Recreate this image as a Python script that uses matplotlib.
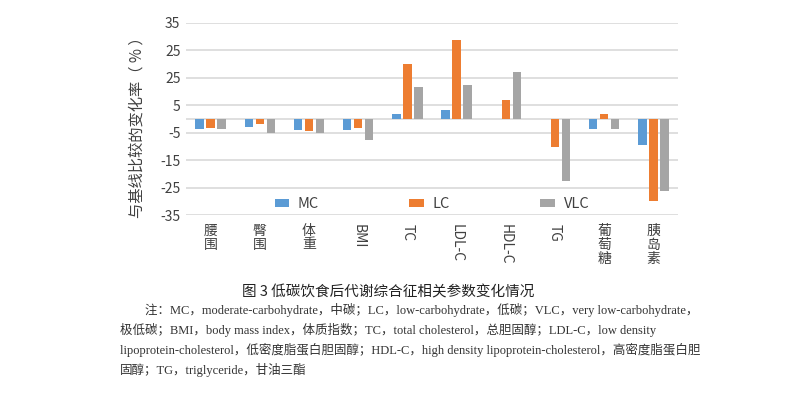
import numpy as np
import matplotlib
matplotlib.use("Agg")
from matplotlib import pyplot as plt

plt.rcParams["font.family"] = ["Noto Sans CJK SC", "DejaVu Sans"]

categories = ["腰围", "臀围", "体重", "BMI", "TC", "LDL-C", "HDL-C", "TG", "葡萄糖", "胰岛素"]
mc = [-3.6, -2.8, -4.0, -4.0, 1.9, 3.4, 0.0, 0.0, -3.8, -9.6]
lc = [-3.3, -1.9, -4.4, -3.4, 19.9, 28.8, 6.8, -10.1, 1.9, -29.7]
vlc = [-3.6, -5.0, -5.2, -7.8, 11.5, 12.2, 17.0, -22.4, -3.8, -26.2]
series_names = ["MC", "LC", "VLC"]
# tick labels as printed in the original figure (second "25" is really 15)
ytick_values = [-35, -25, -15, -5, 5, 15, 25, 35]
ytick_labels = ["-35", "-25", "-15", "-5", "5", "25", "25", "35"]

ylabel = "与基线比较的变化率（ % ）"
caption = "图 3 低碳饮食后代谢综合征相关参数变化情况"
note_lines = [
    "注：MC，moderate-carbohydrate，中碳；LC，low-carbohydrate，低碳；VLC，very low-carbohydrate，",
    "极低碳；BMI，body mass index，体质指数；TC，total cholesterol，总胆固醇；LDL-C，low density",
    "lipoprotein-cholesterol，低密度脂蛋白胆固醇；HDL-C，high density lipoprotein-cholesterol，高密度脂蛋白胆",
    "固醇；TG，triglyceride，甘油三酯",
]

colors = ["#5B9BD5", "#ED7D31", "#A5A5A5"]
grid_c = "#D9D9D9"
text_c = "#404040"

fig = plt.figure(figsize=(8.12, 3.95), dpi=100)
ax = fig.add_axes([186 / 812, 1 - 215.3 / 395, 492 / 812, 192.6 / 395])

x = np.arange(len(categories))
bar_w = 0.17
step = 0.225
for i, (vals, name) in enumerate(zip([mc, lc, vlc], series_names)):
    ax.bar(x + (i - 1) * step, vals, width=bar_w, color=colors[i], label=name, zorder=3)

ax.set_xlim(-0.5, len(categories) - 0.5)
ax.set_ylim(-35, 35)
ax.set_yticks(ytick_values, ytick_labels)
ax.grid(axis="y", color=grid_c, linewidth=1.2, zorder=0)
ax.axhline(0, color=grid_c, linewidth=1.2, zorder=2)
for s in ax.spines.values():
    s.set_visible(False)
ax.tick_params(axis="y", length=0, pad=4, labelsize=10, labelcolor=text_c)
ax.tick_params(axis="x", length=0, pad=6, labelsize=10, labelcolor=text_c)

# category labels: Chinese stacked vertically, Latin rotated
labels = []
for c in categories:
    if c.isascii():
        labels.append(c)
    else:
        labels.append("\n".join(c))
ax.set_xticks(x, labels)
for lab, c in zip(ax.get_xticklabels(), categories):
    if c.isascii():
        lab.set_rotation(-90)
    else:
        lab.set_linespacing(1.0)

ax.legend(loc="center", bbox_to_anchor=(0.5, (-30.9 + 35) / 70), ncol=3, frameon=False,
          fontsize=10.5, columnspacing=6.2, handlelength=1.0, handleheight=0.5,
          handletextpad=0.6, labelcolor=text_c)

fig.text(137 / 812, 1 - 124 / 395, ylabel, rotation=90, ha="center", va="center",
         fontsize=11, color=text_c)

fig.text(388 / 812, 1 - 292 / 395, caption, ha="center", va="center",
         fontsize=10.5, color="#222222")

note_x = [145, 120, 120, 120]
note_y = [310, 330, 350, 370]
for line, nx, ny in zip(note_lines, note_x, note_y):
    fig.text(nx / 812, 1 - ny / 395, line, ha="left", va="center", fontsize=9,
             color="#333333", family=["Liberation Serif", "Noto Sans CJK SC"])

fig.savefig("out.png", dpi=100, facecolor="white")
